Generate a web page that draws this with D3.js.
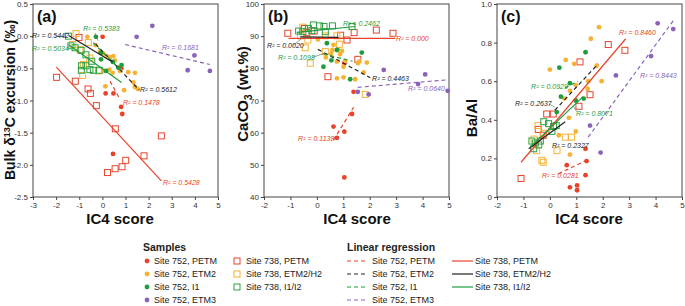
<!DOCTYPE html>
<html>
<head>
<meta charset="utf-8">
<script src="https://cdn.jsdelivr.net/npm/d3@7"></script>
<style>
  body { margin: 0; background: #fff; }
  svg { display: block; font-family: Arial, "Liberation Sans", sans-serif; }
</style>
</head>
<body>
<div id="chart"></div>
<script>
// SERIES (same order in every panel)
const seriesNames = ['752 PETM', '752 ETM2', '752 I1', '752 ETM3', '738 PETM', '738 ETM2/H2', '738 I1/I2']
const seriesLabels = ['Site 752, PETM', 'Site 752, ETM2', 'Site 752, I1', 'Site 752, ETM3',
                      'Site 738, PETM', 'Site 738, ETM2/H2', 'Site 738, I1/I2']

// PANEL (a) - bulk d13C excursion vs IC4 score
const a752PETM = [[0.01,-0.01],[0.82,-0.50],[0.14,-0.89],[0.48,-0.89],[0.81,-1.10],[0.86,-1.21],[0.46,-1.83]]
const a752ETM2 = [[-0.65,-0.01],[-0.29,-0.14],[-0.10,-0.24],[0.04,-0.27],[0.19,-0.31],[0.33,-0.33],[0.47,-0.31],
                  [0.55,-0.38],[0.04,-0.54],[0.30,-0.52],[0.44,-0.57],[0.76,-0.54],[1.12,-0.56],[1.41,-0.57],
                  [1.34,-0.72],[1.41,-0.79],[1.53,-0.82],[0.13,-0.78],[0.94,-0.84]]
const a752I1   = [[-0.28,-0.01],[-0.07,-0.26],[-0.06,-0.36],[0.16,-0.54],[0.69,-0.49],[0.83,-0.45],[0.45,-0.40]]
const a752ETM3 = [[1.48,-0.01],[2.16,0.16],[3.98,-0.30],[3.69,-0.53],[4.65,-0.54]]
const a738PETM = [[-1.98,-0.64],[-1.17,-0.70],[-0.62,-0.82],[-0.52,-0.89],[-0.26,-1.08],[0.56,-1.44],[2.55,-1.55],
                  [1.80,-1.86],[1.01,-1.93],[0.85,-2.03],[0.55,-2.06],[0.22,-2.12],[-1.01,-0.02]]
const a738ETM2 = [[-1.14,0.04],[-0.61,-0.10],[-1.28,-0.13],[-0.97,-0.21],[-0.85,-0.61],[-0.54,-0.34],[-0.17,-0.54],[-0.82,-0.44]]
const a738I1   = [[-1.47,0.00],[-1.36,-0.15],[-1.18,-0.18],[-0.92,-0.22],[-0.71,-0.29],[-0.90,-0.46],[-0.71,-0.46],
                  [-0.54,-0.52],[-0.39,-0.53],[-0.91,-0.53],[-0.46,-0.39],[-0.13,-0.53]]
// fitted lines: series, x0, x1, y0, y1, R2
const aFits = [
  ['752 PETM', 0.33, 0.76, -0.70, -0.98, '0.1478'],
  ['752 ETM2', -0.30, 1.60, -0.12, -0.84, '0.5612'],
  ['752 I1', -0.40, 0.85, -0.10, -0.55, '0.5383'],
  ['752 ETM3', 0.98, 4.65, -0.13, -0.44, '0.1681'],
  ['738 PETM', -1.99, 2.55, -0.48, -2.25, '0.5428'],
  ['738 ETM2/H2', -1.46, 0.38, 0.01, -0.39, '0.5442'],
  ['738 I1/I2', -1.47, 0.83, -0.13, -0.72, '0.5034']
]
// R2 label anchors (data units), same order as fits
const aLabelPos = [[0.89,-1.07],[1.63,-0.87],[-0.84,0.074],[2.58,-0.22],[2.62,-2.31],[-3.04,-0.034],[-3.04,-0.235]]
const aLeaders = [[-0.32,0.05,-0.19,-0.07],[-2.05,0.005,-1.57,-0.02]]

// PANEL (b) - CaCO3 vs IC4 score
const b752PETM = [[1.04,81.6],[1.39,72.7],[0.63,61.9],[1.04,60.3],[0.76,58.4],[1.33,65.8],[1.04,46.1]]
const b752ETM2 = [[0.04,89.0],[0.63,87.3],[0.59,85.7],[0.80,85.9],[0.88,84.4],[0.95,85.4],[0.76,82.1],[1.01,80.5],
                  [1.07,82.3],[1.55,81.6],[1.60,82.1],[1.89,81.8],[1.77,78.7],[0.76,76.9],[1.01,77.2],[1.45,76.6],
                  [0.34,83.4],[0.54,84.5]]
const b752I1   = [[0.38,87.8],[0.76,85.7],[0.25,80.5],[1.70,84.9],[1.26,76.6],[0.55,82.5]]
const b752ETM3 = [[2.53,79.5],[3.83,75.1],[4.10,78.1],[1.55,72.7],[1.96,71.9],[4.95,73.0]]
const b738PETM = [[-1.10,90.9],[-0.47,92.4],[-0.10,91.6],[0.42,77.4],[0.90,90.3],[1.14,88.8],[1.41,91.1],
                  [1.55,82.8],[2.25,91.9],[2.88,90.9],[-0.38,91.2]]
const b738ETM2 = [[-0.34,88.8],[-0.44,86.4],[-0.25,81.6],[0.32,85.2],[0.85,87.5],[0.76,90.1],[1.83,71.9],
                  [-0.53,92.8],[-0.62,90.1],[0.32,90.1]]
const b738I1   = [[-0.69,91.6],[-0.32,92.4],[-0.13,93.5],[0.10,93.2],[0.27,93.0],[0.59,93.2],[0.32,91.4],
                  [1.33,93.0],[-0.19,91.7],[-0.53,91.4]]
const bFits = [
  ['752 PETM', 0.63, 1.39, 57.7, 67.9, '0.1138'],
  ['752 ETM2', 0.04, 2.02, 85.9, 77.1, '0.4463'],
  ['752 I1', 0.25, 1.35, 84.5, 82.2, '0.1098'],
  ['752 ETM3', 1.55, 4.92, 74.1, 76.4, '0.0640'],
  ['738 PETM', -1.07, 2.97, 89.3, 89.3, '0.000'],
  ['738 ETM2/H2', -0.63, 0.82, 89.8, 89.6, '0.0020'],
  ['738 I1/I2', -0.76, 1.45, 91.2, 93.0, '0.2462']
]
const bLabelPos = [[-0.71,57.3],[2.09,76.2],[-1.47,82.7],[3.45,72.8],[2.99,88.6],[-1.89,86.2],[0.99,93.3]]
const bLeaders = [[-0.89,87.2,-0.60,89.1],[-0.17,83.4,0.29,84.7]]

// PANEL (c) - Ba/Al vs IC4 score
const c752PETM = [[1.35,0.25],[0.64,0.165],[1.39,0.186],[1.35,0.113],[0.76,0.05],[1.03,0.06],[1.03,0.035]]
const c752ETM2 = [[1.86,0.88],[1.55,0.82],[0.60,0.71],[0.00,0.66],[0.92,0.69],[1.96,0.60],[1.45,0.60],[0.76,0.55],
                  [0.55,0.51],[0.98,0.58],[1.43,0.56],[1.77,0.68],[0.72,0.41],[0.98,0.34],[0.76,0.22],[0.34,0.32]]
const c752I1   = [[1.35,0.75],[0.36,0.67],[0.76,0.59],[0.42,0.52],[1.28,0.51],[0.26,0.44],[0.98,0.50]]
const c752ETM3 = [[4.08,0.90],[4.67,0.87],[3.83,0.73],[2.50,0.63],[1.52,0.37],[1.92,0.23]]
const c738PETM = [[1.14,0.70],[2.21,0.79],[2.84,0.76],[1.52,0.53],[1.10,0.47],[0.13,0.43],[-1.09,0.096],
                  [-0.25,0.32],[-0.44,0.35],[-0.12,0.43]]
const c738ETM2 = [[-0.45,0.37],[-0.23,0.33],[0.58,0.31],[0.27,0.24],[-0.30,0.19],[-0.50,0.24],[-0.25,0.18],
                  [0.82,0.31],[-0.60,0.30]]
const c738I1   = [[-0.23,0.39],[-0.05,0.38],[0.14,0.365],[-0.68,0.29],[-0.55,0.28],[-0.42,0.27],[-0.61,0.25],
                  [-0.36,0.29],[0.24,0.37],[0.08,0.34]]
const cFits = [
  ['752 PETM', 0.32, 1.39, 0.12, 0.19, '0.0281'],
  ['752 ETM2', 0.19, 1.83, 0.45, 0.69, '0.2637'],
  ['752 I1', 0.57, 1.07, 0.565, 0.60, '0.0929'],
  ['752 ETM3', 1.45, 4.73, 0.31, 0.925, '0.8443'],
  ['738 PETM', -1.09, 2.87, 0.18, 0.82, '0.8460'],
  ['738 ETM2/H2', -0.80, 0.58, 0.25, 0.39, '0.2327'],
  ['738 I1/I2', -0.74, 1.26, 0.26, 0.52, '0.8071']
]
const cLabelPos = [[-0.30,0.096],[-1.32,0.474],[-0.71,0.562],[3.41,0.619],[2.62,0.837],[0.08,0.256],[0.99,0.422]]
const cLeaders = [[-0.03,0.482,0.19,0.465],[1.02,0.442,0.89,0.47]]

// TICKS
const aXTicks = [-3, -2, -1, 0, 1, 2, 3, 4, 5]
const aYTicks = [-2.5, -2.0, -1.5, -1.0, -0.5, 0.0, 0.5]
const bXTicks = [-2, -1, 0, 1, 2, 3, 4, 5]
const bYTicks = [40, 50, 60, 70, 80, 90, 100]
const cXTicks = [-2, -1, 0, 1, 2, 3, 4, 5]
const cYTicks = [0, 0.2, 0.4, 0.6, 0.8, 1.0]

// COLOURS
const markColour = {
  '752 PETM': '#e8432a', '752 ETM2': '#f6b233', '752 I1': '#1f9d3d', '752 ETM3': '#8a63b8',
  '738 PETM': '#e4452e', '738 ETM2/H2': '#f6b233', '738 I1/I2': '#2ea043'
}
const lineColour = {
  '752 PETM': '#e8432a', '752 ETM2': '#222', '752 I1': '#1f9d3d', '752 ETM3': '#8a63b8',
  '738 PETM': '#e8432a', '738 ETM2/H2': '#222', '738 I1/I2': '#1f9d3d'
}
const isDashed = s => s.startsWith('752')
const isSquare = s => s.startsWith('738')

const plotTop = 4, plotBottom = 197

const panels = [
  { tag: '(a)', xr: [33, 218], xd: [-3, 5], yd: [-2.5, 0.5], xt: aXTicks, yt: aYTicks,
    yfmt: d => d3.format('.1f')(d).replace('−', '-'),
    pts: [a752PETM, a752ETM2, a752I1, a752ETM3, a738PETM, a738ETM2, a738I1],
    fits: aFits, lab: aLabelPos, lead: aLeaders, xTitleX: 120 },
  { tag: '(b)', xr: [264, 449], xd: [-2, 5], yd: [40, 100], xt: bXTicks, yt: bYTicks,
    yfmt: d => d3.format('d')(d),
    pts: [b752PETM, b752ETM2, b752I1, b752ETM3, b738PETM, b738ETM2, b738I1],
    fits: bFits, lab: bLabelPos, lead: bLeaders, xTitleX: 357 },
  { tag: '(c)', xr: [497, 682], xd: [-2, 5], yd: [0, 1], xt: cXTicks, yt: cYTicks,
    yfmt: d => d === 0 ? '0' : d3.format('.1f')(d),
    pts: [c752PETM, c752ETM2, c752I1, c752ETM3, c738PETM, c738ETM2, c738I1],
    fits: cFits, lab: cLabelPos, lead: cLeaders, xTitleX: 589 }
]

const svg = d3.select('#chart').append('svg').attr('width', 685).attr('height', 306)

panels.forEach(p => {
  const x = d3.scaleLinear().domain(p.xd).range(p.xr)
  const y = d3.scaleLinear().domain(p.yd).range([plotBottom, plotTop])
  const g = svg.append('g')

  // AXES
  const xAxis = g.append('g').attr('transform', `translate(0,${plotBottom})`)
    .call(d3.axisBottom(x).tickValues(p.xt).tickSize(3).tickPadding(2)
      .tickFormat(d => String(d)))
  const yAxis = g.append('g').attr('transform', `translate(${p.xr[0]},0)`)
    .call(d3.axisLeft(y).tickValues(p.yt).tickSize(3).tickPadding(2).tickFormat(p.yfmt))
  ;[xAxis, yAxis].forEach(ax => {
    ax.select('.domain').remove()
    ax.selectAll('line').attr('stroke', '#444')
    ax.selectAll('text').attr('font-size', 8).attr('fill', '#333').attr('font-family', 'Arial, "Liberation Sans", sans-serif')
  })

  // FRAME
  g.append('rect')
   .attr('x', p.xr[0]).attr('y', plotTop)
   .attr('width', p.xr[1] - p.xr[0]).attr('height', plotBottom - plotTop)
   .attr('fill', 'none').attr('stroke', '#444').attr('stroke-width', 1)

  // POINTS: squares first, circles on top
  const order = [4, 5, 6, 0, 1, 2, 3]
  order.forEach(i => {
    const s = seriesNames[i]
    if (isSquare(s)) {
      g.selectAll(null).data(p.pts[i]).enter().append('rect')
       .attr('x', d => x(d[0]) - 3).attr('y', d => y(d[1]) - 3)
       .attr('width', 6).attr('height', 6)
       .attr('fill', 'none').attr('stroke', markColour[s]).attr('stroke-width', 1)
    } else {
      g.selectAll(null).data(p.pts[i]).enter().append('circle')
       .attr('cx', d => x(d[0])).attr('cy', d => y(d[1])).attr('r', 2.4)
       .attr('fill', markColour[s])
    }
  })

  // REGRESSION LINES
  g.selectAll(null).data(p.fits).enter().append('line')
   .attr('x1', d => x(d[1])).attr('x2', d => x(d[2]))
   .attr('y1', d => y(d[3])).attr('y2', d => y(d[4]))
   .attr('stroke', d => lineColour[d[0]]).attr('stroke-width', 1.2)
   .attr('stroke-dasharray', d => isDashed(d[0]) ? '4,3' : null)

  // LEADER LINES
  g.selectAll(null).data(p.lead).enter().append('line')
   .attr('x1', d => x(d[0])).attr('y1', d => y(d[1]))
   .attr('x2', d => x(d[2])).attr('y2', d => y(d[3]))
   .attr('stroke', '#555').attr('stroke-width', 0.6)

  // R2 LABELS
  p.fits.forEach((f, i) => {
    g.append('text')
     .attr('x', x(p.lab[i][0])).attr('y', y(p.lab[i][1]))
     .attr('font-size', 7).attr('font-style', 'italic')
     .attr('fill', lineColour[f[0]])
     .text('R² = ' + f[5])
  })

  // PANEL TAG
  g.append('text').attr('x', p.xr[0] + 4).attr('y', 22)
   .attr('font-size', 16).attr('font-weight', 'bold').attr('fill', '#111')
   .text(p.tag)

  // X TITLE
  g.append('text').attr('x', p.xTitleX).attr('y', 224)
   .attr('text-anchor', 'middle').attr('font-size', 15).attr('font-weight', 'bold').attr('fill', '#111')
   .text('IC4 score')
})

// Y TITLES
const yt1 = svg.append('text').attr('transform', 'translate(15,100) rotate(-90)')
  .attr('text-anchor', 'middle').attr('font-size', 14).attr('font-weight', 'bold').attr('fill', '#111')
yt1.append('tspan').text('Bulk δ')
yt1.append('tspan').attr('dy', -5).attr('font-size', 9).text('13')
yt1.append('tspan').attr('dy', 5).text('C excursion (‰)')

const yt2 = svg.append('text').attr('transform', 'translate(248,94) rotate(-90)')
  .attr('text-anchor', 'middle').attr('font-size', 15).attr('font-weight', 'bold').attr('fill', '#111')
yt2.append('tspan').text('CaCO')
yt2.append('tspan').attr('dy', 4).attr('font-size', 10).text('3')
yt2.append('tspan').attr('dy', -4).text(' (wt.%)')

svg.append('text').attr('transform', 'translate(477,118) rotate(-90)')
  .attr('text-anchor', 'middle').attr('font-size', 15).attr('font-weight', 'bold').attr('fill', '#111')
  .text('Ba/Al')

// LEGEND
const rowY = [261, 274, 287, 300]
const leg = svg.append('g').attr('font-size', 9).attr('fill', '#222')

leg.append('text').attr('x', 143).attr('y', 251).attr('font-size', 10.5).attr('font-weight', 'bold').text('Samples')
leg.append('text').attr('x', 347).attr('y', 251).attr('font-size', 10.5).attr('font-weight', 'bold').text('Linear regression')

seriesNames.forEach((s, i) => {
  const square = isSquare(s)
  const row = square ? i - 4 : i
  const yy = rowY[row]
  // sample symbol
  if (square) {
    leg.append('rect').attr('x', 234).attr('y', yy - 3).attr('width', 6).attr('height', 6)
       .attr('fill', 'none').attr('stroke', markColour[s]).attr('stroke-width', 1)
    leg.append('text').attr('x', 246).attr('y', yy + 3.3).text(seriesLabels[i])
  } else {
    leg.append('circle').attr('cx', 147).attr('cy', yy).attr('r', 2.4).attr('fill', markColour[s])
    leg.append('text').attr('x', 154).attr('y', yy + 3.3).text(seriesLabels[i])
  }
  // regression line
  const lx = square ? 452 : 347
  leg.append('line').attr('x1', lx).attr('x2', lx + 21).attr('y1', yy).attr('y2', yy)
     .attr('stroke', lineColour[s]).attr('stroke-width', 1.2)
     .attr('stroke-dasharray', isDashed(s) ? '4,3' : null)
  leg.append('text').attr('x', square ? 475 : 372).attr('y', yy + 3.3).text(seriesLabels[i])
})
</script>
</body>
</html>
